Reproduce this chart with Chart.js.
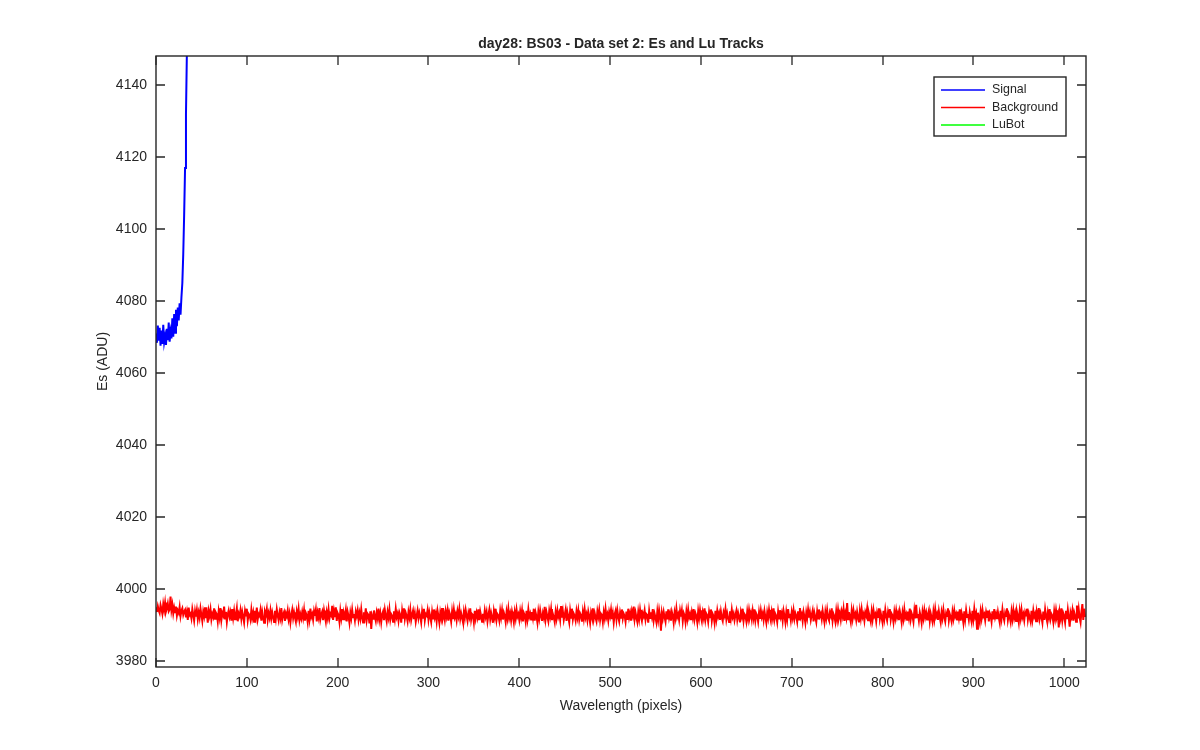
<!DOCTYPE html>
<html>
<head>
<meta charset="utf-8">
<title>day28: BS03 - Data set 2: Es and Lu Tracks</title>
<script src="https://cdn.jsdelivr.net/npm/chart.js@4.4.1/dist/chart.umd.min.js"></script>
<style>
  html, body { margin: 0; padding: 0; background: #fff; }
  canvas { display: block; }
</style>
</head>
<body>
<canvas id="esChart" width="1200" height="750"></canvas>
<script>
// DATA
const chartTitle = 'day28: BS03 - Data set 2: Es and Lu Tracks';
const xTitle = 'Wavelength (pixels)';
const yTitle = 'Es (ADU)';
const seriesNames = ['Signal', 'Background', 'LuBot'];

// signal, first 41 pixels (it leaves the top of the axes at ~34)
const signalValues = [
  4071.0, 4068.4, 4073.2, 4069.0, 4072.6, 4067.6, 4071.8, 4068.1, 4073.4, 4068.6,
  4070.2, 4067.8, 4072.3, 4069.1, 4074.0, 4068.7, 4071.4, 4069.6, 4075.2, 4070.1,
  4076.4, 4071.2, 4077.6, 4073.0, 4078.2, 4074.6, 4079.4, 4076.2, 4081.0, 4085.0,
  4093.0, 4104.0, 4117.0, 4132.0, 4149.0, 4168.0, 4190.0, 4215.0, 4245.0, 4280.0,
  4320.0
];

// background, pixels 0 .. 1023
const backgroundValues = [
  3994.9, 3993.6, 3995.2, 3994.0, 3993.3, 3995.5, 3994.4, 3993.1, 3995.8, 3994.2, 3996.2, 3993.7, 3994.6, 3995.9, 3993.8, 3994.3,
  3997.9, 3994.1, 3995.6, 3993.2, 3994.8, 3993.5, 3995.1, 3992.6, 3994.0, 3993.3, 3995.0, 3992.4, 3993.9, 3994.6, 3992.8, 3993.7,
  3994.2, 3992.1, 3993.6, 3991.4, 3994.8, 3992.7, 3993.1, 3991.8, 3994.4, 3992.9, 3991.2, 3993.8, 3992.3, 3994.1, 3991.6, 3993.4,
  3992.0, 3994.5, 3992.8, 3991.1, 3993.7, 3992.4, 3994.9, 3991.9, 3993.2, 3990.6, 3993.9, 3992.6, 3994.3, 3991.5, 3993.0, 3992.2,
  3994.6, 3991.7, 3993.4, 3992.9, 3990.9, 3993.8, 3992.1, 3994.7, 3991.4, 3993.3, 3992.6, 3995.1, 3991.8, 3993.6, 3990.8, 3992.9,
  3994.0, 3992.3, 3993.5, 3991.2, 3994.4, 3992.0, 3993.9, 3991.6, 3992.8, 3994.6, 3991.0, 3993.2, 3992.5, 3994.1, 3991.7, 3993.6,
  3992.2, 3990.7, 3993.8, 3992.4, 3994.5, 3991.3, 3993.1, 3992.7, 3991.5, 3994.2, 3992.0, 3993.4, 3990.9, 3993.9, 3992.3, 3994.8,
  3991.6, 3993.0, 3992.5, 3994.1, 3991.2, 3993.6, 3992.1, 3990.6, 3993.7, 3992.9, 3994.4, 3991.4, 3993.2, 3992.0, 3994.0, 3991.8,
  3993.5, 3992.2, 3990.8, 3993.9, 3991.9, 3994.3, 3992.6, 3991.3, 3993.4, 3992.0, 3994.7, 3991.5, 3992.9, 3993.6, 3991.1, 3993.2,
  3992.4, 3994.0, 3991.6, 3993.1, 3990.7, 3992.8, 3994.2, 3991.9, 3993.5, 3992.1, 3990.9, 3993.7, 3992.3, 3994.4, 3991.4, 3992.9,
  3991.8, 3993.6, 3992.0, 3994.1, 3991.2, 3993.3, 3992.6, 3990.8, 3993.9, 3991.7, 3994.5, 3992.2, 3993.0, 3991.4, 3993.8, 3992.5,
  3994.2, 3991.0, 3993.4, 3992.1, 3994.7, 3991.6, 3992.9, 3993.7, 3991.3, 3994.0, 3992.4, 3990.9, 3993.5, 3992.0, 3994.3, 3991.8,
  3993.1, 3992.6, 3995.3, 3991.4, 3993.8, 3992.2, 3994.9, 3991.1, 3993.3, 3992.7, 3990.8, 3993.9, 3992.0, 3994.4, 3991.6, 3993.2,
  3992.3, 3994.1, 3991.0, 3993.6, 3992.4, 3990.6, 3993.4, 3991.9, 3994.2, 3992.1, 3993.0, 3991.3, 3993.7, 3992.5, 3994.0, 3991.5,
  3993.3, 3991.8, 3994.3, 3992.0, 3990.7, 3993.5, 3992.2, 3994.6, 3991.4, 3993.1, 3992.7, 3990.4, 3993.8, 3988.9, 3992.6, 3991.7,
  3994.0, 3992.3, 3991.1, 3993.4, 3992.0, 3994.5, 3991.6, 3993.2, 3990.8, 3992.9, 3993.7, 3991.3, 3994.1, 3992.4, 3991.0, 3993.6,
  3992.1, 3994.3, 3991.5, 3993.0, 3992.6, 3990.9, 3993.8, 3991.8, 3994.4, 3992.2, 3993.1, 3991.2, 3993.5, 3992.7, 3990.6, 3993.9,
  3992.0, 3994.6, 3991.7, 3993.3, 3992.4, 3991.0, 3993.6, 3992.1, 3994.2, 3991.4, 3992.8, 3993.9, 3991.6, 3993.2, 3990.9, 3992.5,
  3994.0, 3991.9, 3993.4, 3992.3, 3990.7, 3993.7, 3992.0, 3994.5, 3991.3, 3993.0, 3992.6, 3994.1, 3991.5, 3993.5, 3992.2, 3990.8,
  3993.6, 3991.8, 3994.3, 3992.1, 3993.2, 3991.0, 3993.9, 3992.4, 3990.6, 3993.4, 3991.9, 3994.7, 3992.0, 3993.1, 3991.4, 3993.8,
  3992.3, 3994.0, 3991.2, 3993.5, 3992.6, 3990.9, 3993.7, 3991.6, 3994.2, 3992.1, 3993.0, 3991.3, 3993.8, 3992.4, 3994.4, 3991.7,
  3993.2, 3992.0, 3990.8, 3993.6, 3991.9, 3994.1, 3992.5, 3991.1, 3993.3, 3992.2, 3994.6, 3991.5, 3993.0, 3992.7, 3990.7, 3993.9,
  3991.8, 3993.4, 3992.1, 3994.3, 3991.3, 3993.7, 3992.4, 3990.9, 3993.1, 3991.7, 3994.0, 3992.3, 3993.6, 3991.0, 3992.8, 3994.2,
  3991.6, 3993.3, 3992.0, 3990.6, 3993.8, 3992.2, 3994.5, 3991.4, 3993.0, 3992.6, 3991.2, 3993.9, 3992.1, 3994.1, 3991.5, 3993.4,
  3992.5, 3990.8, 3993.6, 3991.9, 3994.4, 3992.0, 3993.2, 3991.3, 3993.7, 3992.4, 3990.7, 3993.5, 3991.8, 3994.2, 3992.3, 3993.0,
  3991.4, 3993.8, 3992.1, 3994.0, 3991.0, 3993.3, 3992.6, 3990.9, 3993.9, 3991.7, 3994.3, 3992.2, 3993.1, 3991.5, 3993.6, 3992.0,
  3994.5, 3991.2, 3993.4, 3992.3, 3990.6, 3993.7, 3991.9, 3994.1, 3992.5, 3991.1, 3993.2, 3992.0, 3995.0, 3991.6, 3993.5, 3992.2,
  3991.0, 3993.9, 3992.4, 3994.4, 3991.3, 3993.0, 3992.1, 3990.8, 3993.6, 3991.8, 3994.0, 3992.3, 3993.3, 3991.5, 3995.2, 3992.0,
  3993.7, 3991.4, 3992.8, 3994.2, 3991.1, 3993.5, 3992.2, 3990.7, 3993.9, 3992.0, 3994.5, 3991.6, 3993.1, 3992.5, 3991.2, 3993.8,
  3992.1, 3994.0, 3991.5, 3993.2, 3992.6, 3990.9, 3993.6, 3991.8, 3994.3, 3992.0, 3993.0, 3991.3, 3993.7, 3992.4, 3990.6, 3993.4,
  3992.2, 3994.6, 3991.7, 3993.3, 3992.0, 3991.0, 3993.8, 3992.3, 3994.1, 3991.4, 3993.1, 3992.7, 3990.8, 3993.5, 3991.9, 3994.4,
  3992.1, 3993.0, 3991.2, 3993.6, 3992.4, 3994.2, 3991.6, 3993.2, 3990.7, 3992.9, 3993.9, 3991.5, 3994.0, 3992.2, 3991.0, 3993.4,
  3992.0, 3994.3, 3991.8, 3993.1, 3992.5, 3990.9, 3993.7, 3991.4, 3994.5, 3992.1, 3993.3, 3991.2, 3993.8, 3992.6, 3995.1, 3991.6,
  3993.4, 3992.0, 3990.8, 3993.6, 3991.7, 3994.2, 3992.3, 3991.1, 3993.2, 3992.4, 3994.0, 3991.5, 3993.0, 3992.7, 3990.6, 3993.9,
  3991.9, 3993.5, 3992.2, 3994.4, 3991.3, 3993.1, 3992.0, 3990.7, 3993.7, 3991.6, 3994.1, 3992.4, 3988.4, 3993.3, 3991.8, 3993.6,
  3992.1, 3990.9, 3993.8, 3991.5, 3994.3, 3992.0, 3993.2, 3991.2, 3993.6, 3992.5, 3990.6, 3993.4, 3991.9, 3994.5, 3992.2, 3993.0,
  3991.4, 3993.9, 3992.3, 3994.0, 3991.1, 3993.3, 3992.6, 3990.8, 3993.7, 3991.8, 3994.2, 3992.1, 3993.0, 3991.3, 3993.5, 3992.0,
  3994.4, 3991.6, 3993.2, 3992.4, 3990.7, 3993.8, 3991.9, 3994.1, 3992.2, 3991.0, 3993.4, 3992.0, 3994.6, 3991.5, 3993.1, 3992.6,
  3990.9, 3993.6, 3992.1, 3994.3, 3991.2, 3993.0, 3992.4, 3990.6, 3993.9, 3991.7, 3994.0, 3992.3, 3993.3, 3991.4, 3993.7, 3992.0,
  3991.1, 3993.5, 3992.6, 3994.4, 3991.6, 3993.2, 3992.0, 3990.8, 3993.8, 3991.9, 3994.2, 3992.2, 3993.1, 3991.3, 3992.7, 3993.9,
  3991.5, 3993.3, 3992.1, 3990.7, 3993.6, 3992.4, 3994.5, 3991.2, 3993.0, 3992.6, 3991.0, 3993.7, 3991.8, 3994.1, 3992.3, 3993.4,
  3991.6, 3993.9, 3992.0, 3994.3, 3991.3, 3993.1, 3992.5, 3990.9, 3993.5, 3991.7, 3994.0, 3992.2, 3993.2, 3991.4, 3993.8, 3992.1,
  3990.6, 3993.4, 3991.9, 3994.2, 3992.3, 3991.1, 3993.6, 3992.0, 3994.6, 3991.5, 3993.0, 3992.4, 3990.8, 3993.7, 3991.8, 3994.1,
  3992.2, 3993.3, 3991.2, 3993.9, 3992.5, 3990.7, 3993.5, 3991.6, 3994.4, 3992.1, 3993.1, 3991.3, 3993.6, 3992.0, 3994.0, 3991.7,
  3993.2, 3992.4, 3990.9, 3993.8, 3991.5, 3994.7, 3992.2, 3993.0, 3991.1, 3993.6, 3992.3, 3990.6, 3993.4, 3991.9, 3994.2, 3992.0,
  3993.5, 3991.4, 3992.8, 3994.0, 3991.0, 3993.3, 3992.1, 3990.8, 3993.7, 3991.8, 3994.3, 3992.4, 3993.1, 3991.6, 3993.9, 3992.2,
  3990.7, 3993.6, 3991.9, 3994.1, 3992.0, 3991.3, 3993.4, 3992.5, 3994.6, 3991.2, 3993.0, 3992.3, 3990.9, 3993.8, 3991.7, 3994.2,
  3992.1, 3993.3, 3991.5, 3993.7, 3992.4, 3994.4, 3991.1, 3993.2, 3992.0, 3996.1, 3991.6, 3993.5, 3992.2, 3990.8, 3993.9, 3991.8,
  3994.0, 3992.3, 3993.1, 3991.4, 3993.6, 3992.0, 3990.7, 3993.8, 3991.9, 3994.3, 3992.2, 3993.0, 3991.2, 3993.5, 3992.6, 3994.5,
  3991.3, 3993.2, 3992.1, 3990.9, 3993.7, 3991.6, 3994.1, 3992.4, 3993.0, 3991.0, 3993.4, 3992.2, 3994.6, 3991.7, 3993.3, 3992.0,
  3990.6, 3993.9, 3991.8, 3994.2, 3992.3, 3991.2, 3993.5, 3992.0, 3994.4, 3991.5, 3993.1, 3992.6, 3990.8, 3993.6, 3991.9, 3994.0,
  3992.2, 3993.3, 3991.3, 3993.8, 3992.5, 3990.7, 3993.4, 3991.7, 3994.3, 3992.1, 3993.0, 3991.4, 3993.7, 3992.0, 3994.5, 3991.6,
  3993.2, 3992.4, 3990.9, 3993.9, 3991.8, 3995.6, 3992.1, 3993.0, 3991.2, 3993.5, 3992.3, 3990.6, 3993.6, 3991.9, 3994.1, 3992.2,
  3993.4, 3991.5, 3992.9, 3994.0, 3991.1, 3993.2, 3992.0, 3990.8, 3993.7, 3991.7, 3994.4, 3992.3, 3993.1, 3991.4, 3993.8, 3992.1,
  3990.7, 3993.5, 3991.9, 3994.2, 3992.2, 3991.0, 3993.3, 3992.5, 3994.6, 3991.3, 3993.0, 3992.1, 3990.9, 3993.6, 3991.8, 3994.0,
  3992.3, 3993.1, 3991.5, 3993.7, 3992.0, 3994.3, 3991.2, 3993.4, 3992.4, 3990.6, 3993.8, 3991.6, 3994.1, 3992.2, 3993.0, 3991.4,
  3993.6, 3992.1, 3990.8, 3993.9, 3991.7, 3994.5, 3992.3, 3993.2, 3988.9, 3993.4, 3992.0, 3990.7, 3993.7, 3991.9, 3994.2, 3992.4,
  3993.0, 3991.3, 3993.5, 3992.2, 3994.0, 3991.0, 3993.3, 3992.6, 3990.9, 3993.8, 3991.5, 3994.4, 3992.1, 3993.1, 3991.6, 3993.6,
  3992.0, 3990.6, 3993.9, 3991.8, 3994.3, 3992.3, 3991.2, 3993.4, 3992.5, 3994.6, 3991.4, 3993.0, 3992.2, 3990.8, 3993.7, 3991.7,
  3994.1, 3992.0, 3993.3, 3991.1, 3993.6, 3992.4, 3990.7, 3993.8, 3991.9, 3994.2, 3992.1, 3993.0, 3991.3, 3993.5, 3992.6, 3994.5,
  3991.5, 3993.2, 3992.0, 3990.9, 3993.9, 3991.6, 3994.0, 3992.3, 3993.1, 3991.0, 3993.4, 3992.2, 3994.7, 3991.8, 3993.3, 3992.1,
  3990.6, 3993.7, 3991.4, 3994.3, 3992.4, 3991.2, 3993.5, 3992.0, 3994.4, 3991.7, 3993.0, 3992.5, 3990.8, 3993.8, 3991.9, 3994.1,
  3992.2, 3993.1, 3989.3, 3993.6, 3992.0, 3994.6, 3991.3, 3993.2, 3992.4, 3990.7, 3993.9, 3991.6, 3994.2, 3992.1, 3989.5, 3993.4,
  3992.3, 3994.0, 3991.2, 3993.5, 3992.6, 3990.9, 3995.4, 3991.8, 3994.3, 3992.0, 3990.7, 3993.7, 3995.8, 3991.4, 3994.5, 3992.2
];

// LuBot has no samples inside these limits
const lubotValues = [];

const xTicks = [0, 100, 200, 300, 400, 500, 600, 700, 800, 900, 1000];
const yTicks = [3980, 4000, 4020, 4040, 4060, 4080, 4100, 4120, 4140];

// pixel index of each sample
const signalPixels = signalValues.map((v, i) => i);
const backgroundPixels = backgroundValues.map((v, i) => i);

const toPoints = (xs, ys) => ys.map((y, i) => ({x: xs[i], y: y}));

const FONT = '"Liberation Sans", Arial, Helvetica, sans-serif';
const INK = '#262626';

// MATLAB style box: frame + inward ticks on all four sides
const matlabBox = {
    id: 'matlabBox',
    afterDraw(chart) {
        const {ctx, chartArea: a, scales: {x, y}} = chart;
        const len = 9;
        ctx.save();
        ctx.strokeStyle = INK;
        ctx.lineWidth = 1.3;
        ctx.beginPath();
        x.ticks.forEach(t => {
            const px = Math.round(x.getPixelForValue(t.value));
            ctx.moveTo(px, a.bottom); ctx.lineTo(px, a.bottom - len);
            ctx.moveTo(px, a.top); ctx.lineTo(px, a.top + len);
        });
        y.ticks.forEach(t => {
            const py = Math.round(y.getPixelForValue(t.value));
            ctx.moveTo(a.left, py); ctx.lineTo(a.left + len, py);
            ctx.moveTo(a.right, py); ctx.lineTo(a.right - len, py);
        });
        ctx.stroke();
        ctx.lineWidth = 1.4;
        ctx.strokeRect(Math.round(a.left), Math.round(a.top), Math.round(a.right - a.left), Math.round(a.bottom - a.top));
        ctx.restore();
    }
};

// boxed legend in the top right corner
const boxLegend = {
    id: 'boxLegend',
    afterDraw(chart) {
        const ctx = chart.ctx;
        const left = 934, top = 77, w = 132, h = 59, rowH = 17.5;
        ctx.save();
        ctx.fillStyle = '#fff';
        ctx.fillRect(left, top, w, h);
        ctx.strokeStyle = INK;
        ctx.lineWidth = 1.4;
        ctx.strokeRect(left, top, w, h);
        ctx.font = '12.4px ' + FONT;
        ctx.textBaseline = 'middle';
        chart.data.datasets.forEach((ds, i) => {
            const cy = top + 13 + i * rowH;
            ctx.strokeStyle = ds.borderColor;
            ctx.lineWidth = 1.6;
            ctx.beginPath();
            ctx.moveTo(left + 7, cy);
            ctx.lineTo(left + 51, cy);
            ctx.stroke();
            ctx.fillStyle = INK;
            ctx.fillText(ds.label, left + 58, cy);
        });
        ctx.restore();
    }
};

const esChart = new Chart(document.getElementById('esChart'), {
    type: 'line',
    data: {
        datasets: [{
            label: seriesNames[0],
            data: toPoints(signalPixels, signalValues),
            borderColor: '#0000ff',
            borderWidth: 2,
            pointRadius: 0,
            tension: 0,
        },
        {
            label: seriesNames[1],
            data: toPoints(backgroundPixels, backgroundValues),
            borderColor: '#ff0000',
            borderWidth: 2,
            pointRadius: 0,
            tension: 0,
        },
        {
            label: seriesNames[2],
            data: lubotValues,
            borderColor: '#00ff00',
            borderWidth: 1.5,
            pointRadius: 0,
        }]
    },
    options: {
        responsive: false,
        animation: false,
        devicePixelRatio: 1,
        layout: {
            padding: {left: 90, right: 114, top: 0, bottom: 28},
        },
        scales: {
            x: {
                type: 'linear',
                min: 0,
                max: 1024,
                afterFit: s => { s.height = 55; },
                afterBuildTicks: s => { s.ticks = xTicks.map(v => ({value: v})); },
                grid: {display: false, drawTicks: false},
                border: {display: false},
                ticks: {
                    color: INK,
                    padding: 8,
                    maxRotation: 0,
                    font: {family: FONT, size: 14},
                    callback: v => String(v),
                },
                title: {
                    display: true,
                    text: xTitle,
                    color: INK,
                    font: {family: FONT, size: 14},
                    padding: {top: 0, bottom: 7},
                },
            },
            y: {
                type: 'linear',
                min: 3978.3,
                max: 4148.1,
                afterFit: s => { s.width = 66; },
                afterBuildTicks: s => { s.ticks = yTicks.map(v => ({value: v})); },
                grid: {display: false, drawTicks: false},
                border: {display: false},
                ticks: {
                    color: INK,
                    padding: 9,
                    font: {family: FONT, size: 14},
                    callback: v => String(v),
                },
                title: {
                    display: true,
                    text: yTitle,
                    color: INK,
                    font: {family: FONT, size: 14},
                    padding: {top: 5, bottom: 0},
                },
            },
        },
        plugins: {
            legend: {display: false},
            tooltip: {enabled: false},
            title: {
                display: true,
                text: chartTitle,
                fullSize: false,
                color: INK,
                font: {family: FONT, size: 14, weight: 'bold'},
                padding: {top: 36, bottom: 3.2},
            },
        },
    },
    plugins: [matlabBox, boxLegend],
});
</script>
</body>
</html>
